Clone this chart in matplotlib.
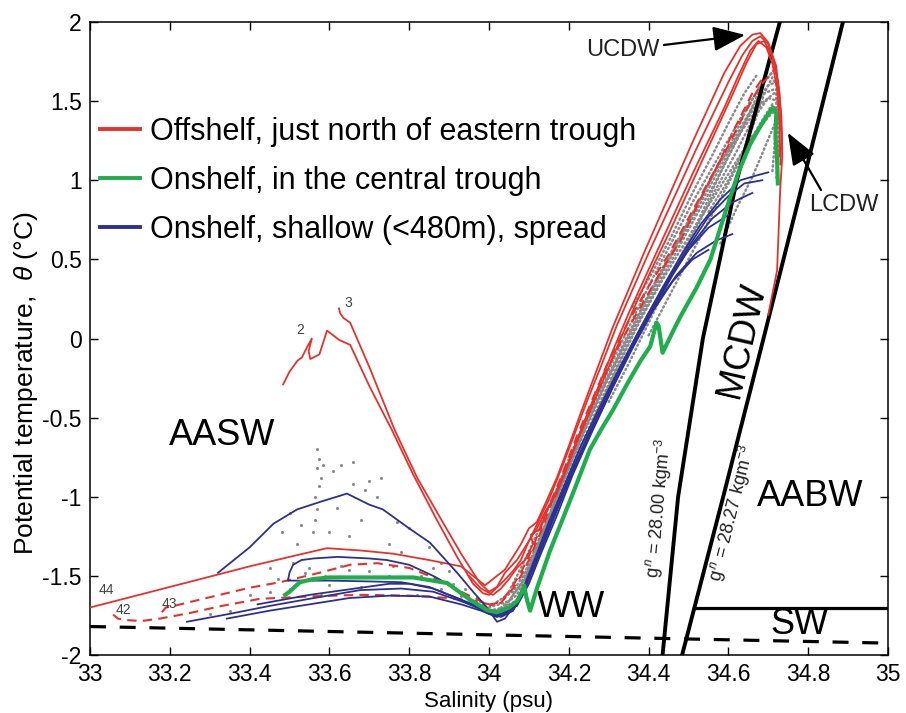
import matplotlib
matplotlib.use("Agg")
import matplotlib.pyplot as plt

plt.rcParams['font.family'] = ['Liberation Sans', 'DejaVu Sans']
plt.rcParams['mathtext.fontset'] = 'custom'
plt.rcParams['mathtext.rm'] = 'Liberation Sans'
plt.rcParams['mathtext.it'] = 'Liberation Sans:italic'
plt.rcParams['axes.unicode_minus'] = False

RED = '#e5322d'
GREEN = '#1fae4b'
BLUE = '#2c3191'
GRAY = '#8a8a8a'

# ---- CTD profiles, (salinity, potential temperature) ----
# Offshelf stations (solid)
red_stn2 = [(33.484, -0.29), (33.50, -0.21), (33.52, -0.14), (33.531, -0.12), (33.545, -0.05),
            (33.556, 0.00), (33.548, -0.08), (33.552, -0.13), (33.575, -0.10), (33.594, 0.05),
            (33.625, -0.01), (33.652, -0.04), (33.70, -0.30), (33.757, -0.58), (33.81, -0.86),
            (33.87, -1.15), (33.92, -1.38), (33.96, -1.55), (33.985, -1.61), (34.00, -1.62),
            (34.03, -1.55), (34.06, -1.47), (34.08, -1.40), (34.10, -1.28), (34.125, -1.15),
            (34.15, -1.02), (34.185, -0.80), (34.215, -0.60), (34.245, -0.40), (34.28, -0.18),
            (34.32, 0.08), (34.36, 0.31), (34.40, 0.54), (34.44, 0.76), (34.48, 0.98),
            (34.52, 1.20), (34.56, 1.41), (34.60, 1.62), (34.635, 1.79), (34.66, 1.88),
            (34.68, 1.91), (34.70, 1.86), (34.715, 1.74), (34.728, 1.55), (34.733, 1.30),
            (34.73, 1.10)]
red_stn3 = [(33.624, 0.19), (33.627, 0.16), (33.635, 0.13), (33.652, 0.10), (33.70, -0.18),
            (33.764, -0.58), (33.82, -0.88), (33.877, -1.13), (33.93, -1.36), (33.977, -1.545),
            (34.00, -1.60), (34.02, -1.57), (34.04, -1.48), (34.07, -1.40), (34.09, -1.32),
            (34.12, -1.20), (34.14, -1.10), (34.16, -1.02), (34.19, -0.85), (34.22, -0.66),
            (34.255, -0.45), (34.29, -0.24), (34.33, 0.00), (34.37, 0.23), (34.41, 0.45),
            (34.45, 0.66), (34.49, 0.88), (34.53, 1.10), (34.57, 1.32), (34.61, 1.54),
            (34.645, 1.74), (34.67, 1.86), (34.69, 1.88), (34.71, 1.78), (34.725, 1.62),
            (34.733, 1.40), (34.735, 1.15), (34.73, 0.95), (34.722, 0.43), (34.70, 0.15)]
red_stn44 = [(33.00, -1.70), (33.10, -1.635), (33.20, -1.57), (33.30, -1.505), (33.40, -1.44),
             (33.50, -1.38), (33.594, -1.325), (33.68, -1.34), (33.76, -1.36), (33.85, -1.40),
             (33.93, -1.44), (33.96, -1.50), (33.99, -1.56), (34.01, -1.52), (34.04, -1.46),
             (34.06, -1.38), (34.08, -1.30), (34.10, -1.20), (34.12, -1.16), (34.14, -1.05),
             (34.17, -0.88), (34.20, -0.68), (34.23, -0.47), (34.27, -0.20), (34.31, 0.07),
             (34.35, 0.31), (34.39, 0.55), (34.43, 0.78), (34.47, 1.01), (34.51, 1.24),
             (34.55, 1.46), (34.59, 1.68), (34.63, 1.85), (34.66, 1.92), (34.68, 1.93),
             (34.70, 1.87), (34.72, 1.72), (34.73, 1.45), (34.735, 1.20)]
red_stn45 = [(33.95, -1.50), (33.98, -1.58), (34.01, -1.62), (34.03, -1.58), (34.05, -1.52),
             (34.07, -1.45), (34.09, -1.40), (34.11, -1.30), (34.105, -1.24), (34.13, -1.20),
             (34.145, -1.08), (34.17, -0.98), (34.20, -0.78), (34.235, -0.55), (34.27, -0.33),
             (34.31, -0.08), (34.35, 0.16), (34.39, 0.38), (34.43, 0.60), (34.47, 0.82),
             (34.51, 1.04), (34.55, 1.25), (34.59, 1.46), (34.625, 1.66), (34.655, 1.82),
             (34.675, 1.88), (34.695, 1.84), (34.71, 1.74), (34.722, 1.58), (34.728, 1.35),
             (34.728, 1.15)]
# Offshelf stations (dashed)
red_stn42 = [(33.058, -1.745), (33.07, -1.77), (33.093, -1.78), (33.13, -1.785), (33.175, -1.77),
             (33.25, -1.735), (33.33, -1.69), (33.426, -1.645), (33.55, -1.63), (33.677, -1.62),
             (33.80, -1.625), (33.90, -1.64), (33.97, -1.66), (34.00, -1.68), (34.03, -1.67),
             (34.06, -1.58), (34.08, -1.50), (34.10, -1.40), (34.13, -1.22), (34.16, -1.02),
             (34.20, -0.78), (34.24, -0.52), (34.28, -0.28), (34.33, -0.02), (34.38, 0.20),
             (34.43, 0.42), (34.48, 0.62), (34.53, 0.88), (34.58, 1.13), (34.62, 1.35),
             (34.66, 1.55), (34.69, 1.66)]
red_stn43 = [(33.18, -1.73), (33.19, -1.70), (33.21, -1.69), (33.30, -1.635), (33.40, -1.575),
             (33.476, -1.54), (33.56, -1.49), (33.652, -1.43), (33.72, -1.42), (33.80, -1.45),
             (33.87, -1.52), (33.93, -1.60), (33.98, -1.66), (34.00, -1.69), (34.03, -1.66),
             (34.05, -1.60), (34.08, -1.48), (34.11, -1.32), (34.14, -1.12), (34.18, -0.88),
             (34.22, -0.62), (34.26, -0.38), (34.30, -0.14), (34.35, 0.11), (34.40, 0.33),
             (34.45, 0.53), (34.50, 0.76), (34.55, 0.99), (34.60, 1.22), (34.64, 1.42),
             (34.68, 1.60), (34.71, 1.68)]

# Onshelf, central trough
green_trough = [(33.489, -1.62), (33.50, -1.60), (33.526, -1.54), (33.56, -1.52), (33.60, -1.51),
                (33.70, -1.51), (33.81, -1.51), (33.895, -1.545), (33.952, -1.65), (33.995, -1.716),
                (34.02, -1.73), (34.05, -1.70), (34.07, -1.66), (34.083, -1.60), (34.088, -1.56),
                (34.095, -1.65), (34.103, -1.72), (34.12, -1.58), (34.153, -1.34), (34.18, -1.17),
                (34.21, -0.98), (34.253, -0.70), (34.28, -0.58), (34.311, -0.45), (34.35, -0.27),
                (34.38, -0.14), (34.404, -0.05), (34.42, 0.10), (34.425, 0.08), (34.435, -0.09),
                (34.46, 0.04), (34.48, 0.14), (34.52, 0.32), (34.555, 0.50), (34.59, 0.78),
                (34.625, 1.05), (34.655, 1.23), (34.68, 1.34), (34.70, 1.42), (34.712, 1.46),
                (34.72, 1.42), (34.718, 1.28), (34.722, 1.13), (34.724, 0.98)]

# Onshelf, shallow stations
blue_a = [(33.321, -1.48), (33.40, -1.32), (33.46, -1.17), (33.519, -1.08), (33.58, -1.03),
          (33.644, -0.98), (33.70, -1.05), (33.734, -1.08), (33.80, -1.20), (33.852, -1.29),
          (33.92, -1.48), (33.96, -1.60), (33.995, -1.70), (34.02, -1.79), (34.04, -1.77),
          (34.06, -1.70), (34.09, -1.55), (34.12, -1.36), (34.15, -1.16), (34.19, -0.92),
          (34.23, -0.68), (34.28, -0.42), (34.33, -0.17), (34.38, 0.07), (34.43, 0.30),
          (34.48, 0.52), (34.53, 0.72), (34.58, 0.88), (34.63, 1.00), (34.67, 1.03), (34.70, 1.05)]
blue_b = [(33.496, -1.53), (33.50, -1.48), (33.509, -1.43), (33.53, -1.40), (33.56, -1.39),
          (33.62, -1.38), (33.70, -1.39), (33.744, -1.40), (33.80, -1.43), (33.86, -1.50),
          (33.91, -1.57), (33.96, -1.66), (34.00, -1.73), (34.03, -1.76), (34.06, -1.72),
          (34.09, -1.58), (34.12, -1.40), (34.16, -1.15), (34.20, -0.90), (34.25, -0.62),
          (34.30, -0.36), (34.35, -0.10), (34.40, 0.14), (34.45, 0.37), (34.50, 0.58),
          (34.55, 0.77), (34.60, 0.90), (34.64, 0.98), (34.685, 1.00)]
blue_c = [(33.50, -1.53), (33.60, -1.53), (33.70, -1.535), (33.78, -1.54), (33.85, -1.57),
          (33.92, -1.64), (33.97, -1.70), (34.00, -1.74), (34.04, -1.74), (34.07, -1.66),
          (34.10, -1.50), (34.13, -1.32), (34.17, -1.08), (34.21, -0.84), (34.26, -0.56),
          (34.31, -0.30), (34.36, -0.05), (34.41, 0.18), (34.46, 0.40), (34.51, 0.60),
          (34.56, 0.76), (34.61, 0.86), (34.66, 0.92)]
blue_d = [(33.243, -1.79), (33.35, -1.74), (33.45, -1.69), (33.55, -1.645), (33.677, -1.59),
          (33.78, -1.58), (33.86, -1.60), (33.93, -1.66), (33.98, -1.71), (34.01, -1.75),
          (34.05, -1.73), (34.08, -1.62), (34.11, -1.46), (34.14, -1.27), (34.18, -1.02),
          (34.22, -0.78), (34.27, -0.50), (34.32, -0.24), (34.37, 0.00), (34.42, 0.22),
          (34.47, 0.40), (34.52, 0.54), (34.57, 0.62), (34.61, 0.66)]
blue_e = [(33.343, -1.77), (33.45, -1.72), (33.55, -1.68), (33.65, -1.64), (33.75, -1.625),
          (33.85, -1.63), (33.93, -1.68), (33.98, -1.72), (34.02, -1.76), (34.06, -1.72),
          (34.09, -1.57), (34.12, -1.38), (34.16, -1.12), (34.20, -0.88), (34.25, -0.60),
          (34.30, -0.34), (34.35, -0.08), (34.40, 0.16), (34.45, 0.38), (34.50, 0.56),
          (34.55, 0.70), (34.60, 0.78)]
blue_f = [(33.42, -1.68), (33.55, -1.62), (33.65, -1.585), (33.75, -1.55), (33.80, -1.55),
          (33.86, -1.58), (33.93, -1.65), (33.99, -1.71), (34.03, -1.74), (34.07, -1.69),
          (34.10, -1.55), (34.13, -1.36), (34.17, -1.12), (34.21, -0.86), (34.26, -0.58),
          (34.31, -0.31), (34.36, -0.06), (34.41, 0.17), (34.46, 0.36), (34.51, 0.50),
          (34.55, 0.56)]

# Remaining stations, drawn as dotted grey profiles
gray_a = [(34.00, -1.70), (34.05, -1.66), (34.08, -1.55), (34.11, -1.38), (34.15, -1.12),
          (34.19, -0.88), (34.24, -0.58), (34.29, -0.30), (34.34, -0.05), (34.39, 0.20),
          (34.44, 0.44), (34.49, 0.67), (34.54, 0.90), (34.59, 1.13), (34.63, 1.33),
          (34.67, 1.50), (34.70, 1.60), (34.72, 1.62)]
gray_b = [(34.02, -1.72), (34.07, -1.62), (34.10, -1.46), (34.13, -1.28), (34.17, -1.04),
          (34.22, -0.74), (34.27, -0.45), (34.32, -0.18), (34.37, 0.08), (34.42, 0.32),
          (34.47, 0.55), (34.52, 0.78), (34.57, 1.00), (34.61, 1.20), (34.65, 1.40),
          (34.69, 1.55), (34.72, 1.58)]
gray_c = [(34.01, -1.68), (34.06, -1.60), (34.09, -1.48), (34.12, -1.30), (34.16, -1.06),
          (34.20, -0.82), (34.25, -0.52), (34.30, -0.24), (34.35, 0.02), (34.40, 0.27),
          (34.45, 0.50), (34.50, 0.74), (34.55, 0.98), (34.60, 1.20), (34.64, 1.42),
          (34.68, 1.60), (34.71, 1.68)]
gray_d = [(34.03, -1.71), (34.08, -1.64), (34.11, -1.48), (34.14, -1.26), (34.18, -1.00),
          (34.23, -0.70), (34.28, -0.41), (34.33, -0.14), (34.38, 0.12), (34.43, 0.35),
          (34.48, 0.56), (34.53, 0.76), (34.58, 0.96), (34.62, 1.12), (34.66, 1.28),
          (34.70, 1.40), (34.72, 1.45)]
gray_e = [(34.55, 0.80), (34.60, 1.00), (34.64, 1.20), (34.67, 1.40), (34.69, 1.55),
          (34.71, 1.65), (34.72, 1.60), (34.72, 1.40), (34.715, 1.20), (34.71, 1.05)]
gray_f = [(34.36, 0.20), (34.41, 0.42), (34.46, 0.66), (34.51, 0.92), (34.56, 1.16),
          (34.60, 1.36), (34.64, 1.55), (34.67, 1.66)]
gray_g = [(33.97, -1.64), (34.00, -1.72), (34.04, -1.70), (34.06, -1.62), (34.09, -1.52),
          (34.12, -1.34), (34.155, -1.10), (34.20, -0.80), (34.24, -0.56), (34.29, -0.28),
          (34.34, -0.02), (34.39, 0.23), (34.44, 0.47), (34.49, 0.70), (34.54, 0.93),
          (34.58, 1.12), (34.63, 1.30), (34.68, 1.48), (34.715, 1.55)]
gray_h = [(34.05, -1.60), (34.09, -1.40), (34.13, -1.18), (34.17, -0.95), (34.21, -0.70),
          (34.26, -0.42), (34.31, -0.14), (34.36, 0.12), (34.41, 0.38), (34.46, 0.62),
          (34.51, 0.86), (34.56, 1.08), (34.61, 1.30), (34.65, 1.48), (34.69, 1.62),
          (34.715, 1.70)]
gray_i = [(34.47, 0.45), (34.52, 0.70), (34.57, 0.95), (34.62, 1.18), (34.66, 1.38),
          (34.70, 1.52), (34.725, 1.50), (34.725, 1.25), (34.72, 1.00)]
gray_j = [(34.40, 0.02), (34.45, 0.26), (34.50, 0.50), (34.55, 0.74), (34.60, 0.98),
          (34.64, 1.18), (34.68, 1.36), (34.71, 1.48)]
gray_k = [(34.30, -0.40), (34.35, -0.16), (34.40, 0.10), (34.45, 0.36), (34.50, 0.62),
          (34.55, 0.88), (34.59, 1.10), (34.63, 1.30), (34.67, 1.52), (34.70, 1.70)]
gray_l = [(34.58, 0.60), (34.62, 0.82), (34.66, 1.02), (34.69, 1.20), (34.715, 1.35),
          (34.73, 1.42)]
surface_gray_S = [33.57, 33.575, 33.57, 33.58, 33.575, 33.565, 33.57, 33.565, 33.56, 33.585,
                  33.61, 33.63, 33.66, 33.70, 33.73, 33.68, 33.72, 33.50, 33.53, 33.48,
                  33.45, 33.52, 33.60, 33.65, 33.75, 33.80, 33.78, 33.85, 33.88, 33.90,
                  33.55, 33.65, 33.70, 33.75, 33.60, 33.68, 33.50, 33.58, 33.72, 33.82,
                  33.88, 33.93, 33.45, 33.40, 33.35, 33.30, 33.62, 33.66, 33.69, 33.77,
                  33.54, 33.59, 33.63, 33.76, 33.83, 33.86, 33.91, 33.94, 33.51, 33.47]
surface_gray_T = [-0.70, -0.76, -0.82, -0.88, -0.93, -1.00, -1.08, -1.15, -1.22, -0.80,
                  -0.84, -0.80, -0.78, -0.90, -0.88, -1.15, -1.00, -1.10, -1.18, -1.22,
                  -1.45, -1.30, -1.22, -1.25, -1.30, -1.20, -1.35, -1.32, -1.42, -1.47,
                  -1.45, -1.46, -1.47, -1.50, -1.56, -1.57, -1.58, -1.62, -1.62, -1.62,
                  -1.58, -1.63, -1.60, -1.62, -1.72, -1.74, -1.07, -0.92, -0.96, -1.16,
                  -1.48, -1.50, -1.44, -1.44, -1.50, -1.45, -1.55, -1.58, -1.42, -1.52]

# Neutral-density surfaces and water-mass boundaries
iso_2800_T = [-2.0, -1.0, 0.0, 1.0, 2.0]
iso_2800_S = [34.435, 34.474, 34.536, 34.621, 34.729]
iso_2827_T = [-2.0, -1.0, 0.0, 1.0, 2.0]
iso_2827_S = [34.484, 34.587, 34.688, 34.788, 34.887]
sw_S = [34.515, 35.0]
sw_T = [-1.70, -1.70]
freezing_S = [33.0, 35.0]
freezing_T = [-1.82, -1.925]

xticks = [33, 33.2, 33.4, 33.6, 33.8, 34, 34.2, 34.4, 34.6, 34.8, 35]
yticks = [-2, -1.5, -1, -0.5, 0, 0.5, 1, 1.5, 2]


def draw(ax, prof, **kw):
    s, t = zip(*prof)
    ax.plot(s, t, **kw)


fig = plt.figure(figsize=(9.06, 7.13), dpi=100)
ax = fig.add_axes([90 / 906, 58 / 713, 798 / 906, 633 / 713])

for prof in [gray_a, gray_b, gray_c, gray_d, gray_e, gray_f, gray_g, gray_h, gray_i,
             gray_j, gray_k, gray_l]:
    draw(ax, prof, color=GRAY, lw=1.8, ls=(0, (0.5, 1.3)), dash_capstyle='round', zorder=1)
ax.scatter(surface_gray_S, surface_gray_T, s=5, color=GRAY, lw=0, zorder=1)

ax.plot(iso_2800_S, iso_2800_T, color='k', lw=2.8, zorder=2)
ax.plot(iso_2827_S, iso_2827_T, color='k', lw=2.8, zorder=2)
ax.plot(sw_S, sw_T, color='k', lw=2.3, zorder=2)
ax.plot(freezing_S, freezing_T, color='k', lw=2.3, dashes=(5.0, 4.3), zorder=2)

for prof in [red_stn42, red_stn43]:
    draw(ax, prof, color=RED, lw=1.5, dashes=(4.5, 3.0), zorder=3)
for prof in [red_stn2, red_stn3, red_stn44, red_stn45]:
    draw(ax, prof, color=RED, lw=1.3, zorder=4)
for prof in [blue_a, blue_b, blue_c, blue_d, blue_e, blue_f]:
    draw(ax, prof, color=BLUE, lw=1.3, zorder=5)
draw(ax, green_trough, color=GREEN, lw=3.0, zorder=6)

# legend
h_red, = ax.plot([], [], color=RED, lw=2.8)
h_green, = ax.plot([], [], color=GREEN, lw=2.8)
h_blue, = ax.plot([], [], color=BLUE, lw=2.8)
ax.legend([h_red, h_green, h_blue],
          ['Offshelf, just north of eastern trough', 'Onshelf, in the central trough',
           'Onshelf, shallow (<480m), spread'],
          loc='upper left', bbox_to_anchor=(0.0125, 0.85), frameon=False, fontsize=22,
          handlelength=1.3, handletextpad=0.33, labelspacing=0.62, borderpad=0,
          borderaxespad=0)

# water-mass labels
big = 26
ax.text(33.331, -0.616, 'AASW', fontsize=big, ha='center', va='center')
ax.text(34.205, -1.697, 'WW', fontsize=big, ha='center', va='center')
ax.text(34.805, -1.0, 'AABW', fontsize=big, ha='center', va='center')
ax.text(34.779, -1.81, 'SW', fontsize=big, ha='center', va='center')
ax.text(34.634, -0.01, 'MCDW', fontsize=26, ha='center', va='center', rotation=77)
ax.text(34.426, -1.071, 'g$^{\\,n}$ = 28.00 kgm$^{-3}$', fontsize=13, ha='center',
        va='center', rotation=85, color='#222222')
ax.text(34.609, -1.103, 'g$^{\\,n}$ = 28.27 kgm$^{-3}$', fontsize=13, ha='center',
        va='center', rotation=76, color='#222222')

arrow = dict(arrowstyle='-|>,head_length=0.9,head_width=0.35', lw=1.6, color='k',
             shrinkA=1, shrinkB=0, mutation_scale=22)
ax.annotate('UCDW', xy=(34.642, 1.918), xytext=(34.336, 1.823), fontsize=17,
            ha='center', va='center', arrowprops=arrow, color='#222222')
ax.annotate('LCDW', xy=(34.749, 1.30), xytext=(34.89, 0.844), fontsize=17,
            ha='center', va='center', arrowprops=dict(arrow, relpos=(0.2, 1.0)),
            color='#222222')

# station numbers
small = dict(fontsize=10, color='#444444', ha='center', va='center')
ax.text(33.526, 0.054, '2', **small)
ax.text(33.647, 0.224, '3', **small)
ax.text(33.04, -1.59, '44', **small)
ax.text(33.085, -1.716, '42', **small)
ax.text(33.20, -1.68, '43', **small)

ax.set_xlim(33, 35)
ax.set_ylim(-2, 2)
ax.set_xticks(xticks)
ax.set_yticks(yticks)
ax.set_xticklabels(['%g' % v for v in xticks])
ax.set_yticklabels(['%g' % v for v in yticks])
ax.tick_params(direction='in', top=True, right=True, length=6, width=1.0,
               labelsize=16.5, pad=6)
for sp in ax.spines.values():
    sp.set_linewidth(1.1)
ax.set_xlabel('Salinity (psu)', fontsize=16, labelpad=3)
ax.set_ylabel('Potential temperature,  $\\theta$ (°C)', fontsize=19)
ax.yaxis.set_label_coords(-0.063, 0.43)

fig.savefig('out.png', dpi=100)
